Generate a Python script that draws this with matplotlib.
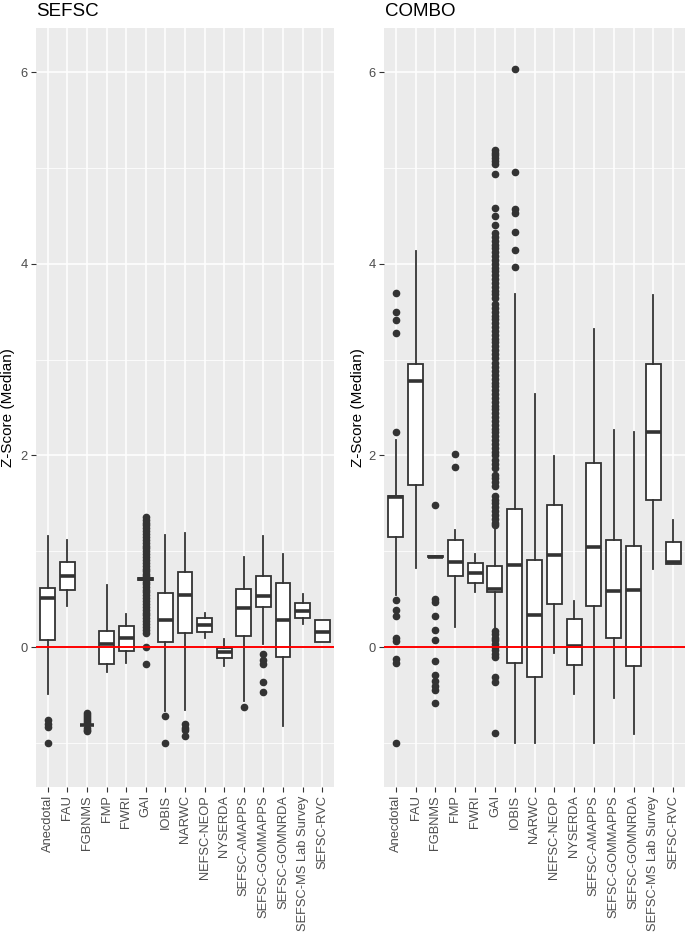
import matplotlib
matplotlib.use("Agg")
import matplotlib.pyplot as plt

plt.rcParams['font.family'] = ['Liberation Sans', 'DejaVu Sans']

# categories shared by both panels
cats = ["Anecdotal", "FAU", "FGBNMS", "FMP", "FWRI", "GAI", "IOBIS", "NARWC",
        "NEFSC-NEOP", "NYSERDA", "SEFSC-AMAPPS", "SEFSC-GOMMAPPS",
        "SEFSC-GOMNRDA", "SEFSC-MS Lab Survey", "SEFSC-RVC"]

# ---- SEFSC panel (box stats) ----
sefsc_hi = [1.16, 1.12, -0.815, 0.65, 0.35, 0.72, 1.17, 1.19, 0.36, 0.08, 0.94, 1.16, 0.97, 0.55, 0.28]
sefsc_q3 = [0.62, 0.885, -0.815, 0.17, 0.22, 0.72, 0.56, 0.78, 0.30, -0.01, 0.61, 0.74, 0.67, 0.46, 0.28]
sefsc_med = [0.51, 0.74, -0.815, 0.03, 0.09, 0.71, 0.28, 0.54, 0.23, -0.05, 0.41, 0.53, 0.28, 0.375, 0.16]
sefsc_q1 = [0.07, 0.60, -0.815, -0.18, -0.04, 0.70, 0.05, 0.15, 0.16, -0.11, 0.12, 0.42, -0.10, 0.30, 0.05]
sefsc_lo = [-0.49, 0.43, -0.815, -0.26, -0.17, 0.70, -0.67, -0.66, 0.09, -0.20, -0.56, 0.03, -0.82, 0.24, 0.05]
sefsc_out = [
    [-0.76, -0.80, -0.83, -1.0],
    [],
    [-0.69, -0.71, -0.73, -0.75, -0.77, -0.79, -0.84, -0.86, -0.88],
    [],
    [],
    [1.36, 1.33, 1.30, 1.27, 1.24, 1.21, 1.18, 1.15, 1.12, 1.09, 1.06, 1.03, 1.00,
     0.97, 0.94, 0.91, 0.88, 0.85, 0.82, 0.79, 0.76, 0.74, 0.68, 0.66, 0.63, 0.60,
     0.57, 0.54, 0.51, 0.48, 0.45, 0.42, 0.39, 0.36, 0.33, 0.30, 0.27, 0.24, 0.21,
     0.18, 0.15, 0.0, -0.18],
    [-0.72, -1.0],
    [-0.80, -0.84, -0.87, -0.93],
    [],
    [],
    [-0.63],
    [-0.07, -0.13, -0.18, -0.36, -0.47],
    [],
    [],
    [],
]

# ---- COMBO panel ----
combo_hi = [2.16, 4.13, 0.945, 1.22, 0.97, 1.23, 3.68, 2.64, 1.99, 0.48, 3.32, 2.27, 2.24, 3.67, 1.33]
combo_q3 = [1.58, 2.95, 0.95, 1.12, 0.875, 0.85, 1.44, 0.91, 1.48, 0.29, 1.92, 1.12, 1.05, 2.95, 1.10]
combo_med = [1.57, 2.78, 0.945, 0.89, 0.77, 0.61, 0.86, 0.33, 0.965, 0.01, 1.04, 0.59, 0.60, 2.24, 0.885]
combo_q1 = [1.15, 1.69, 0.94, 0.74, 0.67, 0.58, -0.17, -0.31, 0.45, -0.19, 0.43, 0.10, -0.20, 1.53, 0.87]
combo_lo = [0.54, 0.83, 0.94, 0.21, 0.57, 0.20, -1.0, -1.0, -0.06, -0.49, -1.0, -0.53, -0.91, 0.82, 0.87]
combo_out = [
    [3.69, 3.50, 3.41, 3.28, 2.24, 0.49, 0.39, 0.32, 0.09, 0.06, -0.12, -0.17, -1.0],
    [],
    [1.48, 0.50, 0.47, 0.32, 0.18, 0.076, -0.15, -0.29, -0.35, -0.41, -0.45, -0.58],
    [2.02, 1.875],
    [],
    [5.19, 5.16, 5.13, 5.10, 5.07, 5.04, 4.94, 4.58, 4.50, 4.40, 4.32, 4.28, 4.24,
     4.20, 4.16, 4.12, 4.08, 4.04, 4.00, 3.96, 3.92, 3.88, 3.84, 3.80, 3.76, 3.72,
     3.68, 3.64, 3.58, 3.54, 3.50, 3.46, 3.42, 3.38, 3.34, 3.30, 3.26, 3.22, 3.18,
     3.14, 3.10, 3.06, 3.02, 2.96, 2.92, 2.88, 2.84, 2.80, 2.76, 2.72, 2.68, 2.64,
     2.60, 2.56, 2.52, 2.48, 2.44, 2.40, 2.36, 2.32, 2.28, 2.24, 2.20, 2.16, 2.12,
     2.08, 2.04, 2.00, 1.95, 1.91, 1.87, 1.80, 1.76, 1.72, 1.68, 1.58, 1.54, 1.50,
     1.46, 1.42, 1.38, 1.34, 1.30, 1.27,
     0.17, 0.14, 0.10, 0.07, 0.03, 0.0, -0.03, -0.07, -0.10, -0.31, -0.36, -0.90],
    [6.03, 4.96, 4.57, 4.53, 4.33, 4.14, 3.97],
    [],
    [],
    [],
    [],
    [],
    [],
    [],
    [],
]

GRID_BG = "#EBEBEB"
DARK = "#333333"


def draw_panel(ax, hi, q3, med, q1, lo, out):
    stats = []
    for i, c in enumerate(cats):
        stats.append(dict(label=c, med=med[i], q1=q1[i], q3=q3[i],
                          whislo=lo[i], whishi=hi[i], fliers=out[i]))
    pos = list(range(1, len(cats) + 1))
    ax.bxp(stats, positions=pos, widths=0.75, showcaps=False, patch_artist=True,
           boxprops=dict(facecolor="white", edgecolor=DARK, linewidth=1.3),
           whiskerprops=dict(color=DARK, linewidth=1.3),
           medianprops=dict(color=DARK, linewidth=2.6, solid_capstyle="butt"),
           flierprops=dict(marker="o", markersize=4.5, markerfacecolor=DARK,
                           markeredgecolor=DARK, linestyle="none"))
    # reference line at zero, drawn over the boxes
    ax.axhline(0, color="red", linewidth=1.4, zorder=5)

    ax.set_facecolor(GRID_BG)
    for s in ax.spines.values():
        s.set_visible(False)
    ax.set_xlim(0.4, len(cats) + 0.6)
    ax.set_ylim(-1.46, 6.46)
    ax.set_yticks([0, 2, 4, 6])
    ax.set_yticklabels(["0", "2", "4", "6"])
    ax.set_yticks([-1, 1, 3, 5], minor=True)
    ax.set_xticks(pos)
    ax.set_xticklabels(cats, rotation=90, ha="center", va="top")
    ax.grid(True, which="major", color="white", linewidth=1.1)
    ax.grid(True, which="minor", axis="y", color="white", linewidth=0.55)
    ax.set_axisbelow(True)
    ax.tick_params(axis="both", which="major", length=3.8, width=0.8, color=DARK,
                   labelcolor="#4D4D4D", labelsize=9.3, pad=2.2)
    ax.tick_params(axis="y", which="minor", length=0)


fig = plt.figure(figsize=(6.85, 9.34), dpi=100)
axL = fig.add_axes([36 / 685, 147 / 934, 298 / 685, 759 / 934])
axR = fig.add_axes([384 / 685, 147 / 934, 301 / 685, 759 / 934])

draw_panel(axL, sefsc_hi, sefsc_q3, sefsc_med, sefsc_q1, sefsc_lo, sefsc_out)
draw_panel(axR, combo_hi, combo_q3, combo_med, combo_q1, combo_lo, combo_out)

fig.text(36 / 685, 1 - 16 / 934, "SEFSC", fontsize=13.5, va="baseline", ha="left")
fig.text(385 / 685, 1 - 16 / 934, "COMBO", fontsize=13.5, va="baseline", ha="left")
fig.text(8 / 685, 1 - 407.5 / 934, "Z-Score (Median)", fontsize=11, rotation=90,
         va="center", ha="center")
fig.text(358 / 685, 1 - 407.5 / 934, "Z-Score (Median)", fontsize=11, rotation=90,
         va="center", ha="center")

fig.savefig("out.png", dpi=100)
